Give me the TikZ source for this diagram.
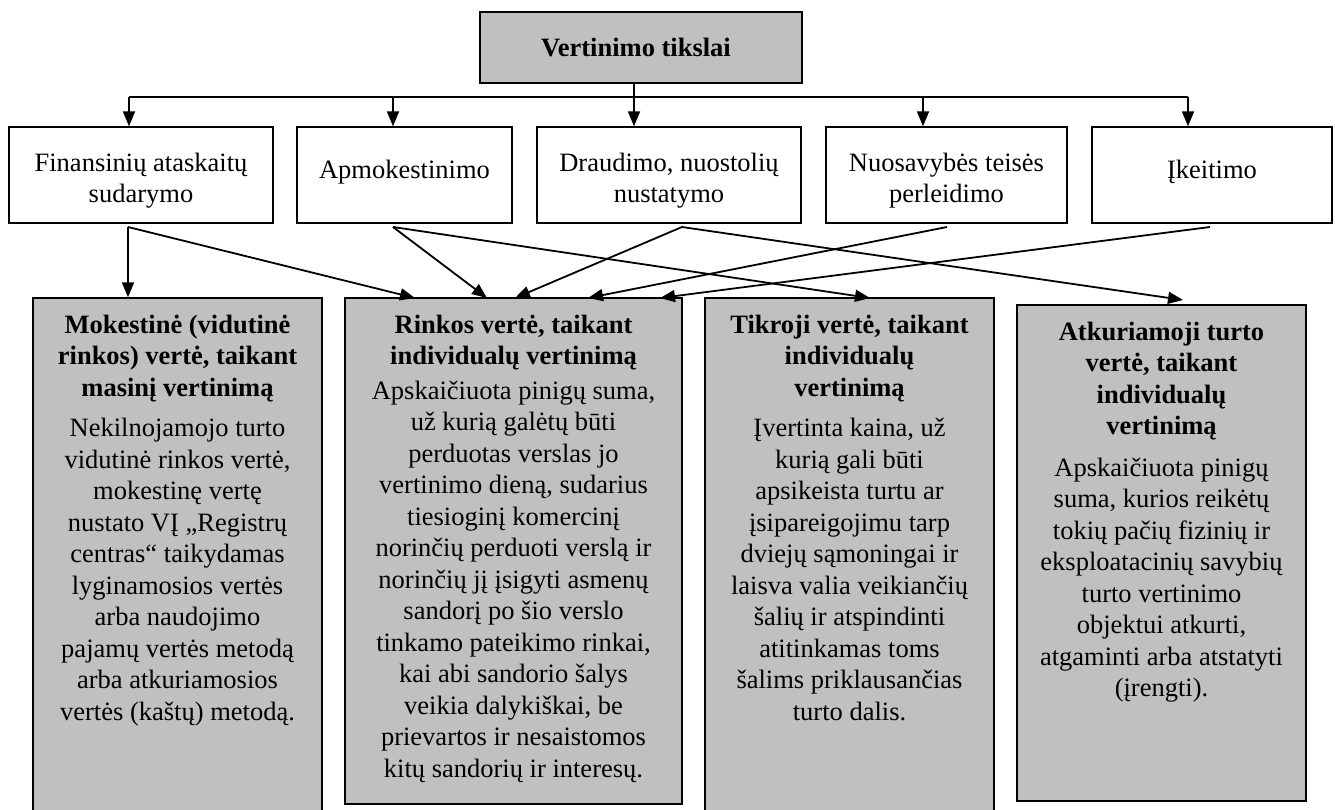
\documentclass[tikz,border=0pt]{standalone}
\usepackage{fontspec}
\setmainfont{Liberation Serif}
\usetikzlibrary{arrows.meta}
\definecolor{boxgray}{HTML}{C0C0C0}
\begin{document}
\begin{tikzpicture}[x=1pt,y=-1pt,
  box/.style={draw=black,line width=1.4pt,rectangle,inner sep=0pt},
  graybox/.style={box,fill=boxgray},
  txt/.style={font=\fontsize{26.5}{31.5}\selectfont,align=center,inner sep=0pt},
  arr/.style={line width=1.8pt,-{Triangle[length=15pt,width=12pt]}},
  ln/.style={line width=1.8pt}]
\useasboundingbox (0,0) rectangle (1335,809);

% top box
\node[graybox,line width=2pt,minimum width=322pt,minimum height=71pt] (top) at (641,47.5) {};
\node[txt,anchor=base] (topt) at (636,56) {\textbf{Vertinimo tikslai}};

% second row
\node[box,minimum width=264pt,minimum height=96pt] (fin) at (141,175) {};
\node[box,minimum width=215pt,minimum height=96pt] (apm) at (404.5,175) {};
\node[box,minimum width=264pt,minimum height=96pt] (drd) at (669,175) {};
\node[box,minimum width=241pt,minimum height=96pt] (nuo) at (946.5,175) {};
\node[box,minimum width=240pt,minimum height=96pt] (ike) at (1212,175) {};

\node[txt,anchor=north] (fint) at (141,149) {\rule{0pt}{22pt}Finansinių ataskaitų\\sudarymo};
\node[txt,anchor=base] (apmt) at (404.5,178) {Apmokestinimo};
\node[txt,anchor=north] (drdt) at (669,149) {\rule{0pt}{22pt}Draudimo, nuostolių\\nustatymo};
\node[txt,anchor=north] (nuot) at (946.5,149) {\rule{0pt}{22pt}Nuosavybės teisės\\perleidimo};
\node[txt,anchor=base] (iket) at (1212,178) {Įkeitimo};

% bottom row
\node[graybox,minimum width=289pt,minimum height=532pt] (mok) at (177.5,564) {};
\node[graybox,minimum width=337pt,minimum height=506pt] (rin) at (513.5,551) {};
\node[graybox,minimum width=289pt,minimum height=532pt] (tik) at (849.5,564) {};
\node[graybox,minimum width=289pt,minimum height=496pt] (atk) at (1161.5,553) {};

\node[txt,anchor=north] (mokt) at (177.5,311) {\rule{0pt}{22pt}\textbf{Mokestinė (vidutinė}\\\textbf{rinkos) vertė, taikant}\\\textbf{masinį vertinimą}\\[9pt]%
Nekilnojamojo turto\\vidutinė rinkos vertė,\\mokestinę vertę\\nustato VĮ „Registrų\\centras“ taikydamas\\lyginamosios vertės\\arba naudojimo\\pajamų vertės metodą\\arba atkuriamosios\\vertės (kaštų) metodą.};

\node[txt,anchor=north] (rint) at (513.5,311) {\rule{0pt}{22pt}\textbf{Rinkos vertė, taikant}\\\textbf{individualų vertinimą}\\[3pt]%
Apskaičiuota pinigų suma,\\už kurią galėtų būti\\perduotas verslas jo\\vertinimo dieną, sudarius\\tiesioginį komercinį\\norinčių perduoti verslą ir\\norinčių jį įsigyti asmenų\\sandorį po šio verslo\\tinkamo pateikimo rinkai,\\kai abi sandorio šalys\\veikia dalykiškai, be\\prievartos ir nesaistomos\\kitų sandorių ir interesų.};

\node[txt,anchor=north] (tikt) at (849.5,311) {\rule{0pt}{22pt}\textbf{Tikroji vertė, taikant}\\\textbf{individualų}\\\textbf{vertinimą}\\[9pt]%
Įvertinta kaina, už\\kurią gali būti\\apsikeista turtu ar\\įsipareigojimu tarp\\dviejų sąmoningai ir\\laisva valia veikiančių\\šalių ir atspindinti\\atitinkamas toms\\šalims priklausančias\\turto dalis.};

\node[txt,anchor=north] (atkt) at (1161.5,318) {\rule{0pt}{22pt}\textbf{Atkuriamoji turto}\\\textbf{vertė, taikant}\\\textbf{individualų}\\\textbf{vertinimą}\\[10pt]%
Apskaičiuota pinigų\\suma, kurios reikėtų\\tokių pačių fizinių ir\\eksploatacinių savybių\\turto vertinimo\\objektui atkurti,\\atgaminti arba atstatyti\\(įrengti).};

% bus
\coordinate (b1) at (129,97);
\coordinate (b2) at (393,97);
\coordinate (b3) at (634,97);
\coordinate (b4) at (923,97);
\coordinate (b5) at (1188,97);
\draw[ln] (b1) -- (b5);
\draw[arr] (top.south -| b3) -- (b3 |- drd.north);
\draw[arr] (b1) -- (b1 |- fin.north);
\draw[arr] (b2) -- (b2 |- apm.north);
\draw[arr] (b4) -- (b4 |- nuo.north);
\draw[arr] (b5) -- (b5 |- ike.north);

% lower connectors
\coordinate (f0) at (128,227);
\coordinate (a0) at (393,227);
\coordinate (d0) at (682,227);
\coordinate (n0) at (947,227);
\coordinate (k0) at (1210,227);
\coordinate (r1) at (415,298);
\coordinate (r2) at (487,298);
\coordinate (r3) at (515,298);
\coordinate (r4) at (588,298);
\coordinate (r5) at (660,298);
\coordinate (t1) at (870,298);
\coordinate (q1) at (1183,300);

\draw[arr] (f0) -- (f0 |- mok.north);
\draw[arr] (f0) -- (r1);
\draw[arr] (a0) -- (r2);
\draw[arr] (a0) -- (t1);
\draw[arr] (d0) -- (r3);
\draw[arr] (d0) -- (q1);
\draw[arr] (n0) -- (r4);
\draw[arr] (k0) -- (r5);
\end{tikzpicture}
\end{document}
